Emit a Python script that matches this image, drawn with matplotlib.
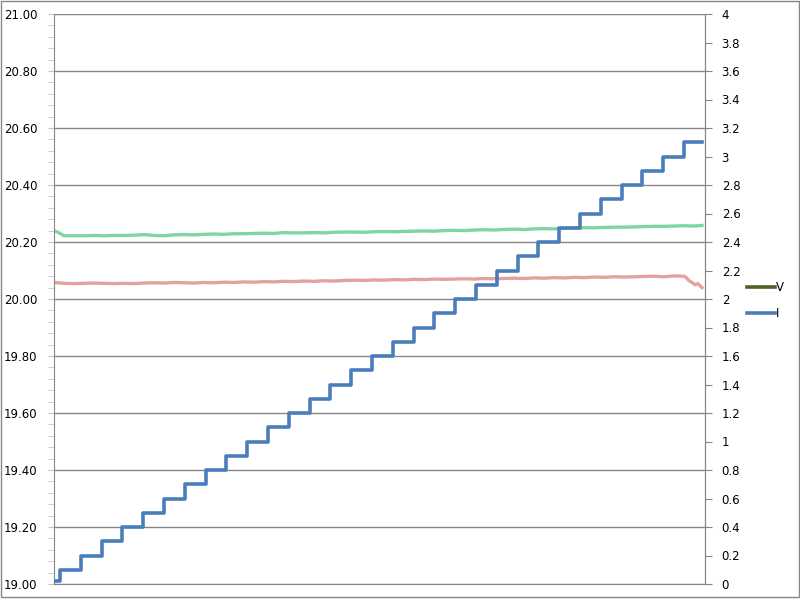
import matplotlib.pyplot as plt
from matplotlib.lines import Line2D
from matplotlib.patches import Rectangle
from matplotlib.ticker import MultipleLocator, FormatStrFormatter, FuncFormatter

# sample index of each reading
v_x = [0, 3, 10, 20, 30, 40, 50, 60, 70, 80, 90, 100, 110, 120, 130, 140, 150, 160, 170, 180,
       190, 200, 210, 220, 230, 240, 250, 260, 270, 280, 290, 300, 310, 320, 330, 340, 350,
       360, 370, 380, 390, 400, 410, 420, 430, 440, 450, 460, 470, 480, 490, 500, 510, 520,
       530, 540, 550, 560, 570, 580, 590, 600, 610, 620, 630, 640, 648]
# upper (green) trace
v_green = [20.239, 20.236, 20.222, 20.222, 20.222, 20.223, 20.222, 20.223, 20.223, 20.224,
           20.226, 20.223, 20.222, 20.225, 20.226, 20.225, 20.227, 20.228, 20.227, 20.229,
           20.229, 20.230, 20.231, 20.230, 20.233, 20.232, 20.232, 20.233, 20.232, 20.234,
           20.235, 20.235, 20.234, 20.236, 20.237, 20.236, 20.237, 20.238, 20.239, 20.238,
           20.240, 20.241, 20.240, 20.242, 20.243, 20.242, 20.244, 20.245, 20.244, 20.246,
           20.247, 20.246, 20.248, 20.249, 20.250, 20.250, 20.251, 20.252, 20.252, 20.253,
           20.254, 20.255, 20.255, 20.256, 20.257, 20.256, 20.258]

r_x = [0, 10, 20, 30, 40, 50, 60, 70, 80, 90, 100, 110, 120, 130, 140, 150, 160, 170, 180,
       190, 200, 210, 220, 230, 240, 250, 260, 270, 280, 290, 300, 310, 320, 330, 340, 350,
       360, 370, 380, 390, 400, 410, 420, 430, 440, 450, 460, 470, 480, 490, 500, 510, 520,
       530, 540, 550, 560, 570, 580, 590, 600, 610, 620, 630, 632, 635, 638, 641, 644, 647, 648]
# lower (red) trace
v_red = [20.058, 20.055, 20.054, 20.055, 20.056, 20.055, 20.054, 20.055, 20.054, 20.056,
         20.057, 20.056, 20.058, 20.057, 20.056, 20.058, 20.057, 20.059, 20.058, 20.060,
         20.059, 20.061, 20.060, 20.062, 20.061, 20.063, 20.062, 20.064, 20.063, 20.065,
         20.066, 20.065, 20.067, 20.066, 20.068, 20.067, 20.069, 20.068, 20.070, 20.069,
         20.070, 20.071, 20.070, 20.072, 20.071, 20.072, 20.073, 20.072, 20.074, 20.073,
         20.075, 20.074, 20.076, 20.075, 20.077, 20.076, 20.078, 20.077, 20.078, 20.079,
         20.080, 20.078, 20.081, 20.080, 20.076, 20.064, 20.058, 20.050, 20.054, 20.043, 20.040]

# current steps: sample where each level starts
i_x = [0, 6, 27, 48, 68, 89, 110, 131, 152, 172, 193, 214, 235, 256, 276, 297, 318, 339,
       360, 380, 401, 422, 443, 464, 484, 505, 526, 547, 568, 588, 609, 630, 648]
i_val = [0.02, 0.1, 0.2, 0.3, 0.4, 0.5, 0.6, 0.7, 0.8, 0.9, 1.0, 1.1, 1.2, 1.3, 1.4, 1.5,
         1.6, 1.7, 1.8, 1.9, 2.0, 2.1, 2.2, 2.3, 2.4, 2.5, 2.6, 2.7, 2.8, 2.9, 3.0, 3.1, 3.1]

grey = '#868686'
plt.rcParams['font.family'] = ['DejaVu Sans']

fig = plt.figure(figsize=(8, 6.01), dpi=100)
ax = fig.add_axes([54 / 800, 17 / 601, 651 / 800, 570 / 601])
ax2 = ax.twinx()

ax.plot(v_x, v_green, color='#7fd6a3', lw=2.4)
ax.plot(r_x, v_red, color='#e3a29c', lw=2.4)
ax2.step(i_x, i_val, where='post', color='#4a7ebb', lw=2.6)

ax.set_xlim(0, 651)
ax.set_ylim(19, 21)
ax2.set_ylim(0, 4)

ax.yaxis.set_major_locator(MultipleLocator(0.2))
ax.yaxis.set_minor_locator(MultipleLocator(0.04))
ax.yaxis.set_major_formatter(FormatStrFormatter('%.2f'))
ax.grid(axis='y', which='major', color=grey, lw=1)
ax.set_axisbelow(True)
ax.set_xticks([])
ax.tick_params(axis='y', which='both', direction='out', length=4, color='#c8c8c8',
               labelsize=8.5, pad=8)

ax2.yaxis.set_major_locator(MultipleLocator(0.2))
ax2.yaxis.set_major_formatter(FuncFormatter(lambda v, p: ('%.1f' % v).rstrip('0').rstrip('.')))
ax2.tick_params(axis='y', direction='out', length=5, color=grey, labelsize=8.5, pad=7)

for a in (ax, ax2):
    a.spines['top'].set_visible(False)
    for s in ('left', 'right', 'bottom'):
        a.spines[s].set_color(grey)
ax2.spines['left'].set_visible(False)
ax2.spines['bottom'].set_visible(False)

handles = [Line2D([], [], color='#4f6228', lw=2.6), Line2D([], [], color='#4a7ebb', lw=2.6)]
fig.legend(handles, ['V', 'I'], loc='center left', bbox_to_anchor=(736 / 800, 0.5),
           frameon=False, fontsize=8.5, handlelength=2.4, handletextpad=0.1, labelspacing=1.1)

fig.patches.append(Rectangle((0.5 / 800, 4 / 601), 798.5 / 800, 596 / 601, transform=fig.transFigure,
                             fill=False, edgecolor=grey, lw=1))

fig.savefig('out.png', dpi=100)
